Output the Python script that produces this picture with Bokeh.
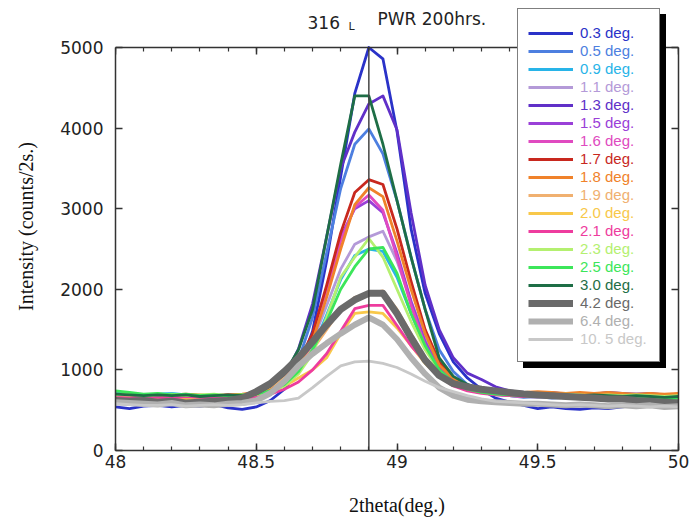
from bokeh.plotting import figure
from bokeh.models import (Range1d, LinearAxis, SingleIntervalTicker, NumeralTickFormatter,
                          Label, Legend, LegendItem)
from bokeh.embed import file_html
from bokeh.resources import INLINE

# 2theta positions (deg.)
two_theta = [48.00, 48.05, 48.10, 48.15, 48.20, 48.25, 48.30, 48.35, 48.40, 48.45,
             48.50, 48.55, 48.60, 48.65, 48.70, 48.75, 48.80, 48.85, 48.90, 48.95,
             49.00, 49.05, 49.10, 49.15, 49.20, 49.25, 49.30, 49.35, 49.40, 49.45,
             49.50, 49.55, 49.60, 49.65, 49.70, 49.75, 49.80, 49.85, 49.90, 49.95, 50.00]
peak_2theta = 48.9

labels = ["0.3 deg.", "0.5 deg.", "0.9 deg.", "1.1 deg.", "1.3 deg.", "1.5 deg.",
          "1.6 deg.", "1.7 deg.", "1.8 deg.", "1.9 deg.", "2.0 deg.", "2.1 deg.",
          "2.3 deg.", "2.5 deg.", "3.0 deg.", "4.2 deg.", "6.4 deg.", "10. 5 deg."]

s03 = [540, 520, 550, 560, 540, 560, 550, 570, 530, 510, 540, 620, 760, 1000, 1480, 2350, 3400, 4430, 5000, 4860,
       3960, 2750, 1950, 1450, 1100, 900, 760, 650, 600, 560, 520, 540, 520, 510, 530, 520, 540, 560, 580, 560, 570]
s05 = [650, 660, 640, 670, 650, 660, 640, 650, 660, 640, 660, 720, 860, 1120, 1650, 2450, 3250, 3800, 3990, 3680,
       3100, 2400, 1750, 1250, 980, 820, 740, 700, 680, 660, 670, 650, 660, 670, 650, 660, 640, 650, 660, 640, 650]
s09 = [730, 710, 690, 700, 710, 690, 670, 680, 660, 670, 680, 730, 810, 960, 1260, 1680, 2120, 2420, 2500, 2470,
       2150, 1700, 1280, 980, 840, 760, 720, 700, 680, 670, 690, 670, 660, 680, 670, 660, 680, 670, 660, 670, 650]
s11 = [640, 650, 640, 630, 650, 640, 630, 640, 650, 640, 650, 700, 820, 1000, 1350, 1800, 2250, 2560, 2650, 2720,
       2350, 1850, 1400, 1060, 870, 770, 720, 690, 680, 670, 660, 670, 660, 650, 660, 670, 650, 660, 650, 660, 650]
s13 = [660, 670, 650, 660, 670, 680, 660, 670, 690, 680, 700, 760, 910, 1260, 1820, 2650, 3500, 3950, 4300, 4400,
       3980, 2950, 2050, 1500, 1150, 960, 880, 790, 740, 720, 710, 720, 700, 710, 700, 720, 710, 700, 710, 690, 700]
s15 = [650, 660, 670, 650, 660, 670, 660, 680, 670, 660, 680, 730, 840, 1050, 1420, 2000, 2650, 3000, 3100, 2950,
       2450, 1850, 1350, 1020, 870, 790, 750, 730, 720, 700, 710, 700, 690, 700, 690, 700, 690, 700, 690, 680, 690]
s16 = [670, 680, 660, 670, 680, 660, 670, 660, 680, 670, 690, 720, 820, 1000, 1350, 1950, 2600, 3020, 3170, 2980,
       2400, 1800, 1300, 990, 850, 770, 730, 710, 700, 690, 700, 690, 680, 690, 680, 690, 680, 670, 680, 670, 680]
s17 = [680, 690, 670, 680, 690, 680, 670, 680, 690, 680, 700, 780, 900, 1100, 1450, 2050, 2700, 3200, 3360, 3300,
       2750, 2100, 1500, 1100, 900, 800, 760, 740, 720, 710, 720, 710, 700, 710, 700, 710, 700, 690, 700, 690, 700]
s18 = [700, 690, 680, 700, 690, 700, 690, 680, 690, 700, 720, 770, 880, 1060, 1360, 1900, 2500, 3050, 3260, 3150,
       2600, 2000, 1450, 1060, 890, 800, 760, 740, 730, 720, 730, 720, 710, 720, 710, 720, 710, 700, 710, 700, 710]
s19 = [660, 670, 650, 660, 670, 650, 660, 650, 670, 680, 720, 790, 900, 1050, 1250, 1500, 1750, 1900, 1950, 1980,
       1750, 1450, 1150, 950, 830, 770, 730, 710, 700, 690, 680, 690, 680, 670, 680, 670, 660, 670, 660, 650, 660]
s20 = [640, 650, 660, 640, 650, 640, 650, 660, 640, 650, 680, 720, 800, 900, 1000, 1150, 1450, 1700, 1720, 1700,
       1520, 1300, 1080, 920, 820, 760, 720, 700, 690, 680, 690, 680, 670, 680, 670, 660, 670, 660, 650, 660, 650]
s21 = [660, 650, 670, 660, 650, 670, 660, 650, 660, 650, 660, 700, 760, 850, 1000, 1200, 1480, 1760, 1800, 1800,
       1550, 1300, 1100, 920, 800, 740, 710, 690, 680, 670, 680, 670, 660, 670, 660, 650, 660, 650, 640, 650, 640]
s23 = [690, 700, 680, 690, 700, 680, 690, 700, 680, 690, 700, 730, 800, 950, 1200, 1650, 2150, 2400, 2630, 2400,
       2000, 1600, 1250, 990, 840, 770, 730, 710, 700, 690, 700, 690, 700, 690, 680, 690, 680, 690, 680, 670, 680]
s25 = [740, 720, 700, 710, 690, 700, 680, 690, 680, 690, 700, 740, 820, 980, 1250, 1600, 2000, 2280, 2500, 2520,
       2200, 1700, 1300, 1000, 850, 760, 720, 700, 690, 680, 670, 680, 670, 660, 670, 660, 650, 660, 650, 640, 650]
s30 = [700, 690, 680, 690, 680, 690, 670, 680, 690, 680, 700, 800, 950, 1250, 1750, 2650, 3550, 4400, 4400, 3800,
       3100, 2400, 1750, 1150, 920, 820, 760, 730, 710, 700, 690, 700, 690, 680, 690, 680, 670, 680, 670, 660, 670]
s42 = [620, 610, 620, 600, 610, 590, 600, 610, 620, 650, 730, 830, 980, 1150, 1350, 1560, 1750, 1870, 1950, 1950,
       1700, 1400, 1120, 930, 830, 790, 760, 740, 720, 700, 690, 680, 670, 660, 650, 640, 640, 620, 610, 600, 590]
s64 = [600, 590, 580, 570, 590, 560, 570, 560, 580, 590, 620, 710, 860, 1050, 1200, 1330, 1450, 1560, 1650, 1560,
       1380, 1150, 950, 780, 680, 630, 610, 600, 590, 580, 580, 570, 560, 570, 560, 550, 560, 550, 560, 540, 550]
s105 = [580, 570, 560, 560, 570, 550, 560, 570, 560, 570, 590, 610, 620, 650, 780, 920, 1050, 1100, 1110, 1080,
        1030, 950, 860, 780, 730, 680, 640, 610, 600, 590, 580, 570, 560, 570, 560, 550, 560, 550, 540, 550, 540]

series = [s03, s05, s09, s11, s13, s15, s16, s17, s18, s19, s20, s21, s23, s25, s30, s42, s64, s105]

colors = ["#2a32c8", "#4d7fe0", "#28b4e8", "#b49ad8", "#6030c8", "#9a40d8", "#e04ac0", "#c8281e", "#f0822a",
          "#f0b070", "#f8c84a", "#ee3c9e", "#b4f070", "#3ce65a", "#1e6e46", "#6a6a6a", "#b0b0b0", "#c8c8c8"]
widths = [2.8] * 15 + [7, 6, 2.8]

Y_TOP = 5000
FRAME_H = 448
# frame reaches above the 5000 line so the legend and title can sit inside it
p = figure(frame_width=563, frame_height=FRAME_H, x_range=Range1d(48, 50),
           y_range=Range1d(0, Y_TOP * FRAME_H / 403),
           output_backend="svg", toolbar_location=None,
           min_border_left=115, min_border_top=2, min_border_right=11, min_border_bottom=72)
p.xgrid.visible = False
p.ygrid.visible = False
p.outline_line_color = None

xb = p.below[0]
yl = p.left[0]
xb.ticker = SingleIntervalTicker(interval=0.5, num_minor_ticks=5)
yl.ticker = SingleIntervalTicker(interval=1000, num_minor_ticks=0)
yl.bounds = (0, Y_TOP)
xb.formatter = NumeralTickFormatter(format="0.[0]")
yl.formatter = NumeralTickFormatter(format="0")
xb.axis_label = "2theta(deg.)"
yl.axis_label = "Intensity (counts/2s.)"

top = LinearAxis(ticker=SingleIntervalTicker(interval=0.5, num_minor_ticks=5), major_label_text_font_size="0px",
                 major_label_standoff=0, fixed_location=Y_TOP)
right = LinearAxis(ticker=SingleIntervalTicker(interval=1000, num_minor_ticks=0), major_label_text_font_size="0px",
                   major_label_standoff=0, bounds=(0, Y_TOP))
p.add_layout(top, "above")
p.add_layout(right, "right")

for ax in [xb, yl, top, right]:
    ax.major_tick_in = 7
    ax.major_tick_out = 0
    ax.minor_tick_in = 4
    ax.minor_tick_out = 0
    ax.axis_line_color = "#333333"
    ax.axis_line_width = 1.5
    ax.major_tick_line_color = "#333333"
    ax.major_tick_line_width = 1.5
    ax.minor_tick_line_color = "#333333"
    ax.minor_tick_line_width = 1.2

for ax in [xb, yl]:
    ax.major_label_text_font = "DejaVu Sans"
    ax.major_label_text_font_size = "17px"
    ax.major_label_text_color = "#222222"
    ax.axis_label_text_font = "Liberation Serif"
    ax.axis_label_text_font_size = "20px"
    ax.axis_label_text_font_style = "normal"
    ax.axis_label_text_color = "#111111"
xb.major_label_standoff = 4
xb.axis_label_standoff = 23
yl.major_label_standoff = 12
yl.axis_label_standoff = 20

renderers = []
for ys, c, w in zip(series, colors, widths):
    r = p.line(two_theta, ys, line_color=c, line_width=w, line_join="round")
    renderers.append(r)

# vertical marker at the peak position, from 0 up to the top axis
p.segment(x0=[peak_2theta], y0=[0], x1=[peak_2theta], y1=[Y_TOP], line_color="#444444", line_width=1.5)

# Legend: shadow + box, then one single-item legend per entry (so each label keeps its own colour)
dummy = p.line([], [], line_alpha=0)
box_kw = dict(padding=15, spacing=2, glyph_width=45, glyph_height=16, label_height=16, label_width=60,
              label_standoff=6, label_text_font_size="10px", label_text_alpha=0, margin=0)
shadow = Legend(items=[LegendItem(label=" ", renderers=[dummy]) for _ in labels], location=(408, 82),
                background_fill_color="black", background_fill_alpha=1.0, border_line_color="black", **box_kw)
box = Legend(items=[LegendItem(label=" ", renderers=[dummy]) for _ in labels], location=(402, 88),
             background_fill_color="white", background_fill_alpha=1.0, border_line_color="black",
             border_line_width=1.5, **box_kw)
p.add_layout(shadow)
p.add_layout(box)

for i, (lab, c, r) in enumerate(zip(labels, colors, renderers)):
    leg = Legend(items=[LegendItem(label=lab, renderers=[r])], location=(413, 409 - 18 * i),
                 padding=0, margin=0, spacing=0, glyph_width=45, glyph_height=16, label_height=16,
                 label_standoff=7, background_fill_alpha=0, border_line_color=None,
                 label_text_font="Liberation Sans", label_text_font_size="15px", label_text_color=c)
    p.add_layout(leg)

# Title
title_kw = dict(x_units="screen", y_units="screen", text_font="DejaVu Sans", text_color="#222222",
                text_baseline="bottom")
p.add_layout(Label(x=192, y=422, text="316", text_font_size="17px", **title_kw))
p.add_layout(Label(x=233, y=418, text="L", text_font_size="11px", **title_kw))
p.add_layout(Label(x=262, y=422, text="PWR 200hrs.", text_font_size="17px", **title_kw))

open("out.html", "w").write(file_html(p, INLINE))
